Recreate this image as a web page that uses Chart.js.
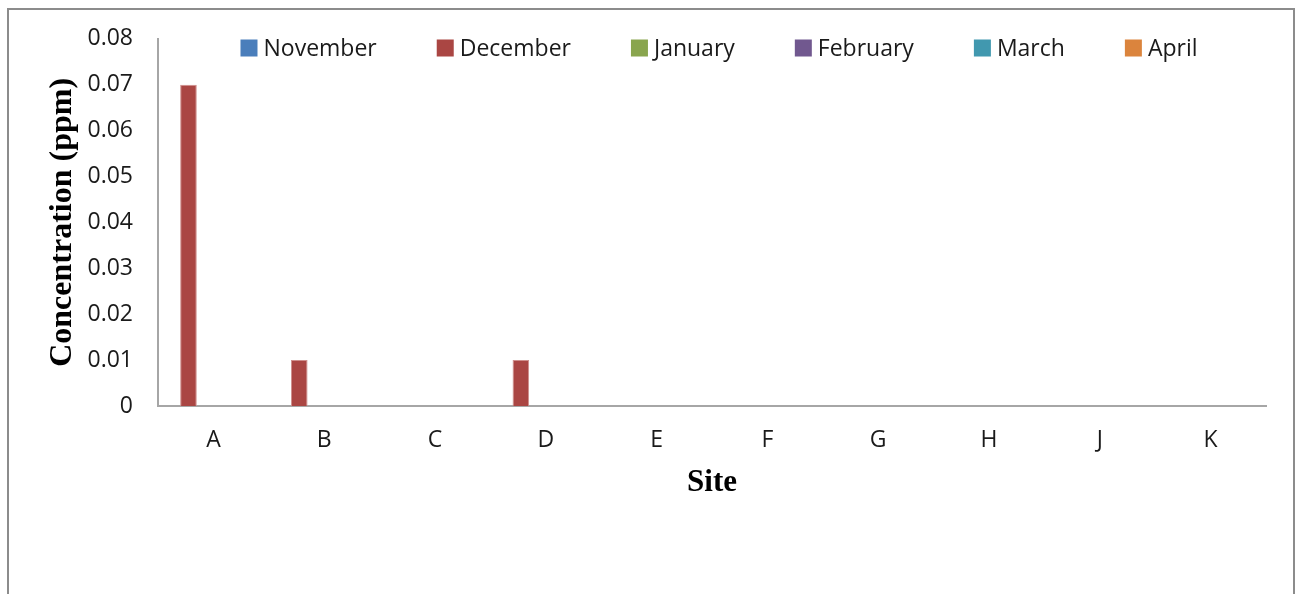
<!DOCTYPE html>
<html>
<head>
<meta charset="utf-8">
<title>Concentration (ppm) by site</title>
<script src="https://cdn.jsdelivr.net/npm/chart.js@4.4.1/dist/chart.umd.min.js"></script>
<style>
  html, body { margin: 0; padding: 0; background: #fff; overflow: hidden; }
  #wrap { position: relative; width: 1296px; height: 594px; }
  /* outer chart frame, runs off the bottom edge */
  #frame { position: absolute; left: 7px; top: 8px; width: 1288px; height: 700px;
           box-sizing: border-box; border: 2px solid #8c8c8c; }
  #concChart { position: absolute; left: 0; top: 0; }
</style>
</head>
<body>
<div id="wrap">
  <div id="frame"></div>
  <canvas id="concChart" width="1296" height="594"></canvas>
</div>
<script>
// Sampling sites (no site I)
const sites = ['A', 'B', 'C', 'D', 'E', 'F', 'G', 'H', 'J', 'K'];

// Monthly concentrations in ppm, one value per site
const november = [0, 0, 0, 0, 0, 0, 0, 0, 0, 0];
const december = [0.07, 0.01, 0, 0.01, 0, 0, 0, 0, 0, 0];
const january  = [0, 0, 0, 0, 0, 0, 0, 0, 0, 0];
const february = [0, 0, 0, 0, 0, 0, 0, 0, 0, 0];
const march    = [0, 0, 0, 0, 0, 0, 0, 0, 0, 0];
const april    = [0, 0, 0, 0, 0, 0, 0, 0, 0, 0];

const months = ['November', 'December', 'January', 'February', 'March', 'April'];
const monthValues = [november, december, january, february, march, april];
const fills   = ['#4A7EBB', '#AA4643', '#89A54E', '#71588F', '#4198AF', '#DB843D'];
const edges   = ['#8aa9d6', '#cf8f8c', '#b9cc93', '#a895bd', '#8cc3d2', '#efb68a'];

// y axis: 0 .. 0.08 in steps of 0.01
const yMin = 0;
const yMax = 0.08;
const yStep = 0.01;

const tickFont = { family: '"Open Sans", sans-serif', size: 23 };
const titleFont = { family: '"Liberation Serif", "Times New Roman", serif', weight: 'bold' };

// legend row drawn across the top of the plot, Excel style
const monthLegend = {
  id: 'monthLegend',
  afterDraw(chart) {
    const ctx = chart.ctx;
    const area = chart.chartArea;
    const boxSize = 17, boxGap = 6, itemGap = 60;
    ctx.save();
    ctx.font = '23px "Open Sans", sans-serif';
    const items = chart.data.datasets.map(ds => ({
      text: ds.label,
      color: ds.backgroundColor,
      w: ctx.measureText(ds.label).width
    }));
    const total = items.reduce((s, it) => s + boxSize + boxGap + it.w, 0) + itemGap * (items.length - 1);
    let x = (area.left + area.right) / 2 + 7 - total / 2;
    const y = 48;
    ctx.textBaseline = 'middle';
    items.forEach(it => {
      ctx.fillStyle = it.color;
      ctx.fillRect(x, y - boxSize / 2, boxSize, boxSize);
      x += boxSize + boxGap;
      ctx.fillStyle = '#1a1a1a';
      ctx.fillText(it.text, x, y + 1);
      x += it.w + itemGap;
    });
    ctx.restore();
  }
};

const ctx = document.getElementById('concChart').getContext('2d');

const chart = new Chart(ctx, {
  type: 'bar',
  data: {
    labels: sites,
    datasets: months.map((m, i) => ({
      label: m,
      data: monthValues[i],
      backgroundColor: fills[i],
      borderColor: edges[i],
      borderWidth: 1,
      categoryPercentage: 0.9,
      barPercentage: 1.0
    }))
  },
  options: {
    responsive: false,
    animation: false,
    layout: { padding: { left: 8, right: 30, top: 38, bottom: 92 } },
    plugins: {
      legend: { display: false },
      tooltip: { enabled: false }
    },
    scales: {
      x: {
        grid: { display: false, drawTicks: false },
        border: { display: true, color: '#a6a6a6', width: 2 },
        ticks: { font: tickFont, color: '#1a1a1a', padding: 21, maxRotation: 0 },
        title: { display: true, text: 'Site', color: '#000',
                 font: { ...titleFont, size: 31 }, padding: { top: 0, bottom: 0 } },
        afterFit: (scale) => { scale.height = 96; }
      },
      y: {
        min: yMin,
        max: yMax,
        grid: { display: false, drawTicks: false },
        border: { display: true, color: '#a6a6a6', width: 2 },
        ticks: {
          stepSize: yStep,
          font: tickFont,
          color: '#1a1a1a',
          padding: 25,
          callback: (v) => (v === 0 ? '0' : v.toFixed(2))
        },
        title: { display: true, text: 'Concentration (ppm)', color: '#000',
                 font: { ...titleFont, size: 32 }, padding: { top: 36, bottom: 0 } },
        afterFit: (scale) => { scale.width = 150; }
      }
    }
  },
  plugins: [monthLegend]
});
</script>
</body>
</html>
